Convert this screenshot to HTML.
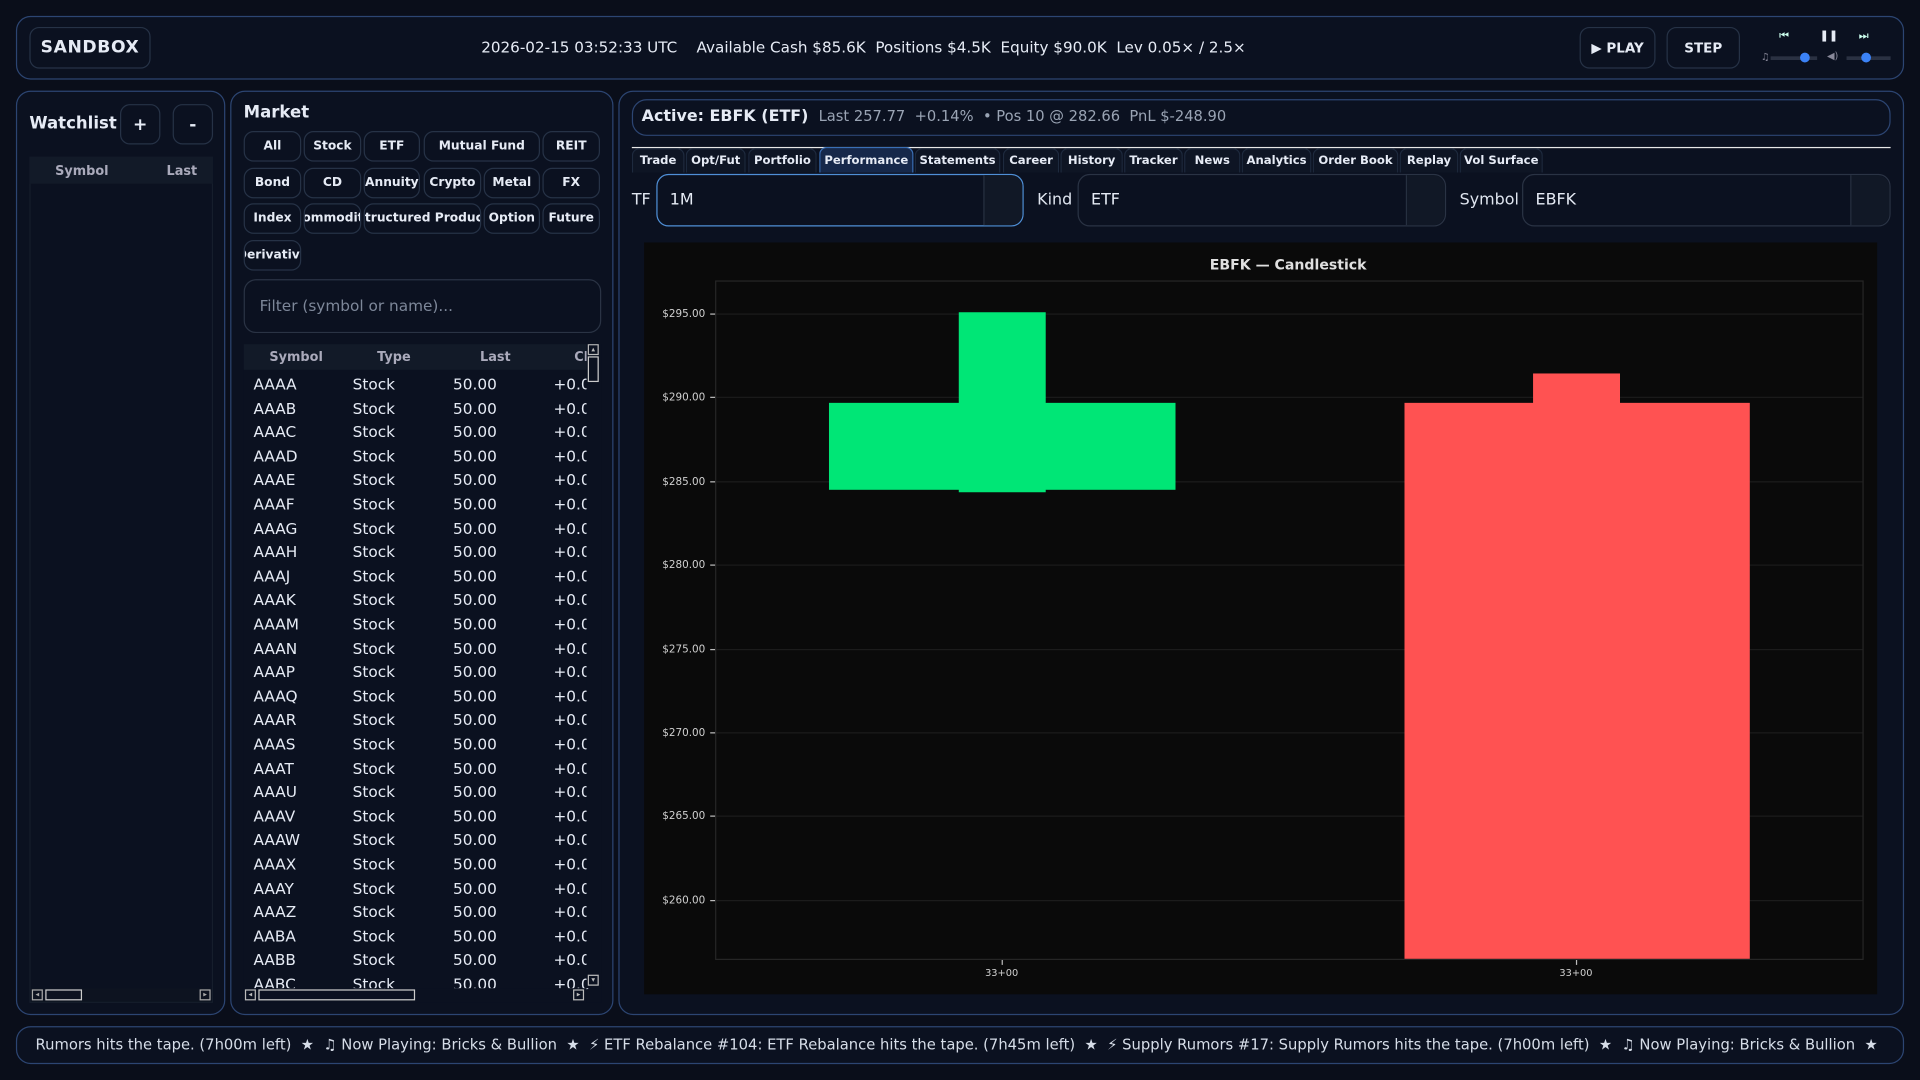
<!DOCTYPE html>
<html><head><meta charset="utf-8">
<style>
html,body{margin:0;padding:0;background:#0a0e1a;width:1920px;height:1080px;overflow:hidden}
#root{position:absolute;left:0;top:0;width:1568px;height:882px;transform:scale(1.22449);transform-origin:0 0;font-family:"DejaVu Sans","Liberation Sans",sans-serif;color:#e6ebf5;background:#0a0e1a}
.a{position:absolute;box-sizing:border-box}
.panel{border:1px solid #2c4572;border-radius:12px;background:#0b1120}
.btn{border:1px solid #263246;border-radius:8px;background:#0b1120;font-weight:bold;display:flex;align-items:center;justify-content:center;white-space:nowrap;overflow:hidden}
.fb{font-size:10px;height:25px;border-radius:8px}
.row{font-size:12.5px;color:#e6ebf5}
.tab{top:121px;height:20px;font-size:9.5px;font-weight:bold;border:1px solid #1e2a3e;border-bottom:none;border-radius:6px 6px 0 0;display:flex;align-items:center;justify-content:center;background:#0e1524;color:#e6ebf5}
.sel{height:43px;border:1px solid #2a3344;border-radius:10px;font-size:13px;display:flex;align-items:center;padding-left:10px;background:#0b1120}
.seg{position:absolute;right:0;top:0;bottom:0;width:31px;border-left:1px solid #2a3344;background:#111826;border-radius:0 10px 10px 0}
.lbl{font-size:13px;color:#dfe5ef}
.yt{position:absolute;font-size:8.5px;color:#d0d0d0;transform:translateY(-50%)}
</style></head><body><div id="root">

<div class="a panel" style="left:13px;top:13px;width:1542px;height:52px"></div>
<div class="a btn" style="left:24px;top:22px;width:99px;height:34px;font-size:14px;letter-spacing:0.5px">SANDBOX</div>
<div class="a" style="left:393px;top:31px;font-size:12.4px;white-space:nowrap;color:#e6ebf5">2026-02-15 03:52:33 UTC&nbsp;&nbsp;&nbsp; Available Cash $85.6K&nbsp; Positions $4.5K&nbsp; Equity $90.0K&nbsp; Lev 0.05× / 2.5×</div>
<div class="a btn" style="left:1290px;top:22px;width:62px;height:34px;font-size:11px">▶ PLAY</div>
<div class="a btn" style="left:1361px;top:22px;width:60px;height:34px;font-size:11px">STEP</div>
<div class="a" style="left:1453px;top:25px;font-size:9px;color:#cfe">⏮</div>
<div class="a" style="left:1486px;top:25px;font-size:9px;font-weight:bold">❚❚</div>
<div class="a" style="left:1518px;top:25px;font-size:9px;color:#cfe">⏭</div>
<div class="a" style="left:1438px;top:42px;font-size:8px;color:#889">♫</div>
<div class="a" style="left:1446px;top:46px;width:38px;height:3px;background:#2a3142"></div>
<div class="a" style="left:1470px;top:43px;width:8px;height:8px;border-radius:50%;background:#3b82f6"></div>
<div class="a" style="left:1492px;top:41px;font-size:8px;color:#889">◀)</div>
<div class="a" style="left:1508px;top:46px;width:36px;height:3px;background:#2a3142"></div>
<div class="a" style="left:1520px;top:43px;width:8px;height:8px;border-radius:50%;background:#3b82f6"></div>

<div class="a panel" style="left:13px;top:74px;width:171px;height:755px"></div>
<div class="a" style="left:24px;top:93px;font-size:13.5px;font-weight:bold">Watchlist</div>
<div class="a btn" style="left:98px;top:85px;width:33px;height:33px;font-size:14px">+</div>
<div class="a btn" style="left:141px;top:85px;width:33px;height:33px;font-size:14px">-</div>
<div class="a" style="left:24px;top:128px;width:150px;height:691px;border:1px solid #161e2c;background:#0b1120"></div>
<div class="a" style="left:24px;top:128px;width:150px;height:22px;background:#121a28"></div>
<div class="a" style="left:45px;top:134px;font-size:10.5px;font-weight:bold;color:#aab">Symbol</div>
<div class="a" style="left:136px;top:134px;font-size:10.5px;font-weight:bold;color:#aab">Last</div>
<div class="a" style="left:25px;top:807px;width:148px;height:11px;background:#0d1320"></div>
<div class="a" style="left:26px;top:808px;width:9px;height:9px;border:1px solid #aaa;font-size:6px;color:#aaa;line-height:8px;text-align:center">◂</div>
<div class="a" style="left:37px;top:808px;width:30px;height:9px;border:1px solid #ccc"></div>
<div class="a" style="left:163px;top:808px;width:9px;height:9px;border:1px solid #aaa;font-size:6px;color:#aaa;line-height:8px;text-align:center">▸</div>

<div class="a panel" style="left:188px;top:74px;width:313px;height:755px"></div>
<div class="a" style="left:199px;top:84px;font-size:13.5px;font-weight:bold">Market</div>
<div class="a btn fb" style="left:199px;top:107px;width:47px">All</div>
<div class="a btn fb" style="left:248px;top:107px;width:47px">Stock</div>
<div class="a btn fb" style="left:297px;top:107px;width:46px">ETF</div>
<div class="a btn fb" style="left:346px;top:107px;width:95px">Mutual Fund</div>
<div class="a btn fb" style="left:443px;top:107px;width:47px">REIT</div>
<div class="a btn fb" style="left:199px;top:137px;width:47px">Bond</div>
<div class="a btn fb" style="left:248px;top:137px;width:47px">CD</div>
<div class="a btn fb" style="left:297px;top:137px;width:46px">Annuity</div>
<div class="a btn fb" style="left:346px;top:137px;width:47px">Crypto</div>
<div class="a btn fb" style="left:395px;top:137px;width:46px">Metal</div>
<div class="a btn fb" style="left:443px;top:137px;width:47px">FX</div>
<div class="a btn fb" style="left:199px;top:166px;width:47px">Index</div>
<div class="a btn fb" style="left:248px;top:166px;width:47px">Commodity</div>
<div class="a btn fb" style="left:297px;top:166px;width:96px">Structured Product</div>
<div class="a btn fb" style="left:395px;top:166px;width:46px">Option</div>
<div class="a btn fb" style="left:443px;top:166px;width:47px">Future</div>
<div class="a btn fb" style="left:199px;top:196px;width:47px">Derivative</div>
<div class="a" style="left:199px;top:228px;width:292px;height:44px;border:1px solid #2a3344;border-radius:10px;font-size:12.5px;color:#7d8799;padding:13px 0 0 12px">Filter (symbol or name)...</div>
<div class="a" style="left:199px;top:281px;width:292px;height:538px;background:#0b1120;overflow:hidden">
 <div class="a" style="left:0;top:0;width:292px;height:21px;background:#121a28"></div>
 <div class="a" style="left:21px;top:5px;font-size:10.5px;font-weight:bold;color:#aab">Symbol</div>
 <div class="a" style="left:109px;top:5px;font-size:10.5px;font-weight:bold;color:#aab">Type</div>
 <div class="a" style="left:193px;top:5px;font-size:10.5px;font-weight:bold;color:#aab">Last</div>
 <div class="a" style="left:270px;top:5px;font-size:10.5px;font-weight:bold;color:#aab">Ch</div>
 <div id="rows"></div>
 <div class="a" style="left:280px;top:0;width:12px;height:526px;background:#0b1120"></div>
 <div class="a" style="left:281px;top:0;width:9px;height:9px;border:1px solid #bbb;font-size:6px;color:#bbb;text-align:center;line-height:8px">▴</div>
 <div class="a" style="left:281px;top:10px;width:9px;height:21px;border:1px solid #ccc"></div>
 <div class="a" style="left:281px;top:515px;width:9px;height:9px;border:1px solid #bbb;font-size:6px;color:#bbb;text-align:center;line-height:8px">▾</div>
 <div class="a" style="left:0;top:526px;width:280px;height:12px;background:#0b1120"></div>
 <div class="a" style="left:1px;top:527px;width:9px;height:9px;border:1px solid #bbb;font-size:6px;color:#bbb;text-align:center;line-height:8px">◂</div>
 <div class="a" style="left:12px;top:527px;width:128px;height:9px;border:1px solid #ccc"></div>
 <div class="a" style="left:269px;top:527px;width:9px;height:9px;border:1px solid #bbb;font-size:6px;color:#bbb;text-align:center;line-height:8px">▸</div>
</div>

<div class="a panel" style="left:505px;top:74px;width:1050px;height:755px"></div>
<div class="a" style="left:516px;top:81px;width:1028px;height:30px;border:1px solid #2c4572;border-radius:12px"></div>
<div class="a" style="left:524px;top:88px;font-size:13px;white-space:nowrap"><b>Active: EBFK (ETF)</b>&nbsp; <span style="color:#9aa4b4;font-size:12px">Last 257.77&nbsp; +0.14%&nbsp; • Pos 10 @ 282.66&nbsp; PnL $-248.90</span></div>
<div class="a" style="left:516px;top:120px;width:1028px;height:1px;background:#e8e8e8"></div>
<div class="a tab" style="left:516px;width:43px">Trade</div>
<div class="a tab" style="left:560px;width:49px">Opt/Fut</div>
<div class="a tab" style="left:611px;width:56px">Portfolio</div>
<div class="a tab" style="left:669px;width:77px;background:#16284a;border:1px solid #3a6fb5;border-bottom:none;top:120px;height:21px">Performance</div>
<div class="a tab" style="left:747px;width:70px">Statements</div>
<div class="a tab" style="left:819px;width:46px">Career</div>
<div class="a tab" style="left:866px;width:51px">History</div>
<div class="a tab" style="left:918px;width:48px">Tracker</div>
<div class="a tab" style="left:967px;width:46px">News</div>
<div class="a tab" style="left:1014px;width:57px">Analytics</div>
<div class="a tab" style="left:1072px;width:70px">Order Book</div>
<div class="a tab" style="left:1143px;width:48px">Replay</div>
<div class="a tab" style="left:1192px;width:68px">Vol Surface</div>
<div class="a lbl" style="left:516px;top:156px">TF</div>
<div class="a sel" style="left:536px;top:142px;width:300px;border-color:#4f8fd6">1M<div class="seg"></div></div>
<div class="a lbl" style="left:847px;top:156px">Kind</div>
<div class="a sel" style="left:880px;top:142px;width:301px">ETF<div class="seg"></div></div>
<div class="a lbl" style="left:1192px;top:156px">Symbol</div>
<div class="a sel" style="left:1243px;top:142px;width:301px">EBFK<div class="seg"></div></div>

<div class="a" style="left:526px;top:198px;width:1007px;height:614px;background:#0a0a0a"></div>
<div class="a" style="left:552px;top:209px;width:1000px;text-align:center;font-size:11.5px;font-weight:bold;color:#e0e0e0">EBFK — Candlestick</div>
<div class="a" style="left:584px;top:229px;width:938px;height:555px;border:1px solid #262626"></div>
<div id="grid"></div>
<div class="a" style="left:677px;top:329px;width:283px;height:71px;background:#00e676"></div>
<div class="a" style="left:783px;top:255px;width:71px;height:147px;background:#00e676"></div>
<div class="a" style="left:1147px;top:329px;width:282px;height:454px;background:#ff5252"></div>
<div class="a" style="left:1252px;top:305px;width:71px;height:25px;background:#ff5252"></div>
<div class="a" style="left:818px;top:784px;width:1px;height:4px;background:#bbb"></div>
<div class="a" style="left:1287px;top:784px;width:1px;height:4px;background:#bbb"></div>
<div class="a" style="left:798px;top:790px;width:40px;text-align:center;font-size:8px;color:#d0d0d0">33+00</div>
<div class="a" style="left:1267px;top:790px;width:40px;text-align:center;font-size:8px;color:#d0d0d0">33+00</div>

<div class="a panel" style="left:13px;top:838px;width:1542px;height:31px"></div>
<div class="a" style="left:29px;top:846px;font-size:12.05px;white-space:nowrap;color:#d6dde8;width:1515px;overflow:hidden">Rumors hits the tape. (7h00m left)&nbsp; ★&nbsp; ♫ Now Playing: Bricks &amp; Bullion&nbsp; ★&nbsp; ⚡ ETF Rebalance #104: ETF Rebalance hits the tape. (7h45m left)&nbsp; ★&nbsp; ⚡ Supply Rumors #17: Supply Rumors hits the tape. (7h00m left)&nbsp; ★&nbsp; ♫ Now Playing: Bricks &amp; Bullion&nbsp; ★</div>

</div>
<script>
var r=document.getElementById('rows'),h='';
var s=['AAAA','AAAB','AAAC','AAAD','AAAE','AAAF','AAAG','AAAH','AAAJ','AAAK','AAAM','AAAN','AAAP','AAAQ','AAAR','AAAS','AAAT','AAAU','AAAV','AAAW','AAAX','AAAY','AAAZ','AABA','AABB','AABC'];
for(var i=0;i<s.length;i++){var t=25+i*19.6;
h+='<div class="a row" style="left:8px;top:'+t+'px">'+s[i]+'</div><div class="a row" style="left:89px;top:'+t+'px">Stock</div><div class="a row" style="left:171px;top:'+t+'px">50.00</div><div class="a row" style="left:253px;top:'+t+'px">+0.0</div>';}
r.innerHTML=h;
var g=document.getElementById('grid'),q='';
var v=[295,290,285,280,275,270,265,260];
for(var j=0;j<v.length;j++){var y=256+(295-v[j])*13.68;
q+='<div class="a" style="left:585px;top:'+y+'px;width:936px;height:1px;background:#1c1c1c"></div><div class="a" style="left:580px;top:'+y+'px;width:4px;height:1px;background:#bbb"></div><div class="yt" style="top:'+(y+1)+'px;right:'+(1568-576)+'px">$'+v[j].toFixed(2)+'</div>';}
g.innerHTML=q;
</script>
</body></html>
